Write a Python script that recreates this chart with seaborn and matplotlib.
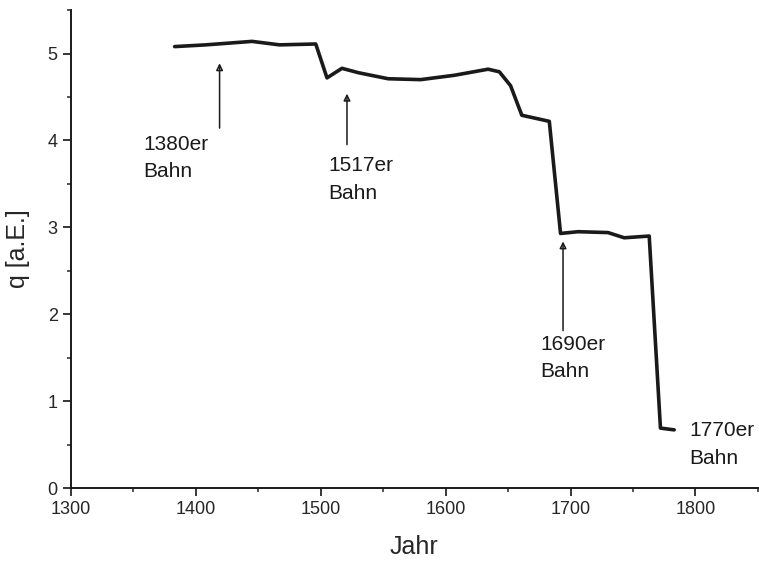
import matplotlib
matplotlib.use("Agg")
import matplotlib.pyplot as plt
import seaborn as sns
import pandas as pd
from matplotlib.ticker import MultipleLocator

# curve
jahr = [1383, 1408, 1445, 1467, 1496, 1505, 1517, 1530, 1554, 1580, 1607, 1634,
        1643, 1652, 1661, 1683, 1692, 1706, 1730, 1743, 1763, 1772, 1783]
q = [5.08, 5.10, 5.14, 5.10, 5.11, 4.72, 4.83, 4.78, 4.71, 4.70, 4.75, 4.82,
     4.79, 4.63, 4.29, 4.22, 2.93, 2.95, 2.94, 2.88, 2.90, 0.69, 0.67]

# annotations: label, arrow x, arrow tail y, arrow head y, text x, text y
bahn_labels = ["1380er\nBahn", "1517er\nBahn", "1690er\nBahn", "1770er\nBahn"]
arrow_x = [1419, 1521, 1694, None]
arrow_from = [4.11, 3.92, 1.78, None]
arrow_to = [4.92, 4.57, 2.87, None]
text_x = [1358, 1506, 1676, 1795]
text_y = [3.80, 3.55, 1.50, 0.50]

sns.set_style("ticks")
plt.rcParams["font.family"] = ["Liberation Sans", "DejaVu Sans"]

df = pd.DataFrame({"Jahr": jahr, "q": q})

fig = plt.figure(figsize=(7.59, 5.61), dpi=100)
ax = fig.add_axes([0.0935, 0.130, 0.905, 0.852])

sns.lineplot(data=df, x="Jahr", y="q", ax=ax, sort=False, color="#1a1a1a",
             lw=2.6, estimator=None)

for lab, ax_x, y0, y1, tx, ty in zip(bahn_labels, arrow_x, arrow_from, arrow_to, text_x, text_y):
    if ax_x is not None:
        ax.annotate("", xy=(ax_x, y1), xytext=(ax_x, y0),
                    arrowprops=dict(arrowstyle="-|>", color="#1a1a1a", lw=1.1,
                                    mutation_scale=10, fill=False))
    ax.text(tx, ty, lab, fontsize=15, va="center", ha="left",
            linespacing=1.55, color="#1a1a1a")

ax.set_xlim(1300, 1850)
ax.set_ylim(0, 5.5)
ax.xaxis.set_major_locator(MultipleLocator(100))
ax.xaxis.set_minor_locator(MultipleLocator(50))
ax.yaxis.set_major_locator(MultipleLocator(1))
ax.yaxis.set_minor_locator(MultipleLocator(0.5))
ax.set_xticks([1300, 1400, 1500, 1600, 1700, 1800])
ax.tick_params(which="major", direction="out", length=6, width=1.3, labelsize=13)
ax.tick_params(which="minor", direction="out", length=3, width=1.1)

ax.set_xlabel("Jahr", fontsize=18, labelpad=12)
ax.set_ylabel("q [a.E.]", fontsize=18, labelpad=13)

sns.despine(ax=ax)
for s in ["left", "bottom"]:
    ax.spines[s].set_linewidth(1.4)
    ax.spines[s].set_color("#1a1a1a")

fig.savefig("out.png", dpi=100)
